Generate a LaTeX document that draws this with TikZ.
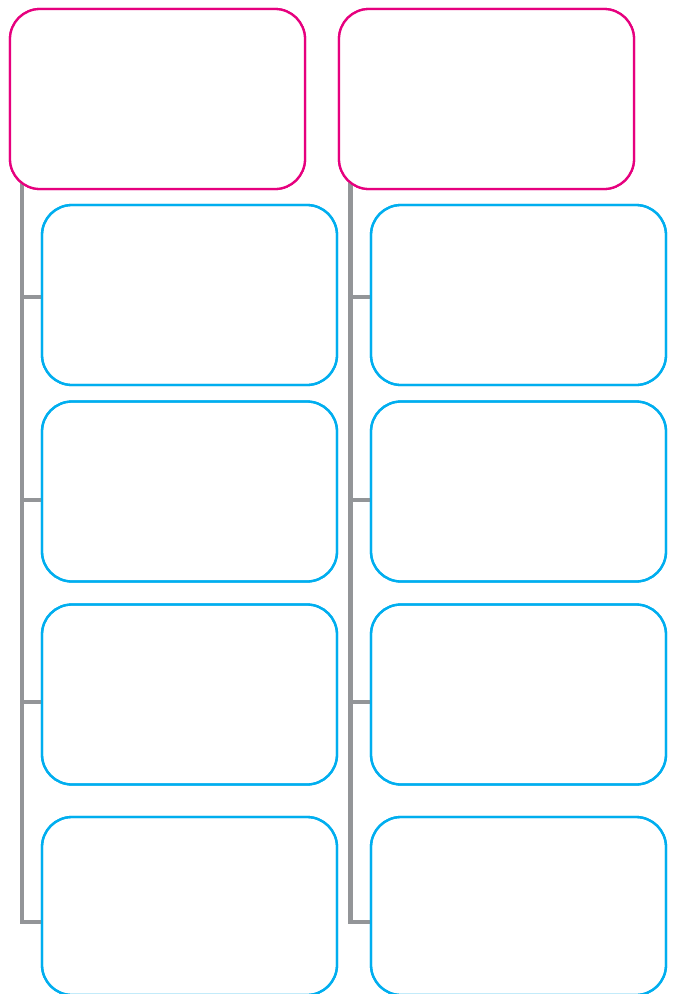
\documentclass[tikz,border=0pt]{standalone}
\usetikzlibrary{calc}
\definecolor{pinkc}{HTML}{E6007E}
\definecolor{bluec}{HTML}{00AEEF}
\definecolor{grayc}{HTML}{939598}
\begin{document}
\begin{tikzpicture}[x=1pt,y=-1pt,
  topbox/.style={draw=pinkc,line width=2.3pt,fill=white,rounded corners=30pt,minimum width=295pt,minimum height=180pt,inner sep=0pt},
  itembox/.style={draw=bluec,line width=2.3pt,fill=white,rounded corners=30pt,minimum width=295pt,minimum height=180pt,inner sep=0pt},
  spine/.style={draw=grayc,line width=4.5pt,line join=miter}]
\useasboundingbox (0,0) rectangle (679,994);
\clip (0,0) rectangle (679,994);
% spine coordinates
\coordinate (LS) at (22,180);
\coordinate (RS) at (350.5,180);
\coordinate (L1) at (22,297);
\coordinate (L2) at (22,500);
\coordinate (L3) at (22,702);
\coordinate (L4) at (22,922);
\coordinate (R1) at (350.5,297);
\coordinate (R2) at (350.5,500);
\coordinate (R3) at (350.5,702);
\coordinate (R4) at (350.5,922);
% boxes
\node[topbox] (tl) at (157.5,99) {};
\node[topbox] (tr) at (486.5,99) {};
\node[itembox] (l1) at (189.5,295) {};
\node[itembox] (l2) at (189.5,491.5) {};
\node[itembox] (l3) at (189.5,694.5) {};
\node[itembox,minimum height=178pt] (l4) at (189.5,906) {};
\node[itembox] (r1) at (518.5,295) {};
\node[itembox] (r2) at (518.5,491.5) {};
\node[itembox] (r3) at (518.5,694.5) {};
\node[itembox,minimum height=178pt] (r4) at (518.5,906) {};
% connectors
\draw[spine] (LS) -- (L4) -- (L4 -| l4.west);
\draw[spine] (L1) -- (L1 -| l1.west);
\draw[spine] (L2) -- (L2 -| l2.west);
\draw[spine] (L3) -- (L3 -| l3.west);
\draw[spine] (RS) -- (R4) -- (R4 -| r4.west);
\draw[spine] (R1) -- (R1 -| r1.west);
\draw[spine] (R2) -- (R2 -| r2.west);
\draw[spine] (R3) -- (R3 -| r3.west);
% redraw box borders above connectors
\node[topbox] at (tl) {};
\node[topbox] at (tr) {};
\foreach \n in {l1,l2,l3,r1,r2,r3}{\node[itembox,fill=none] at (\n) {};}
\node[itembox,fill=none,minimum height=178pt] at (l4) {};
\node[itembox,fill=none,minimum height=178pt] at (r4) {};
\end{tikzpicture}
\end{document}
